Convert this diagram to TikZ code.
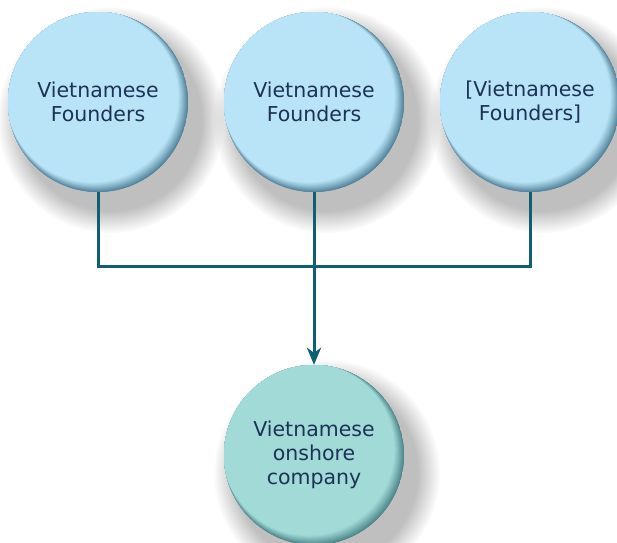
\documentclass[tikz,border=0pt]{standalone}
\usepackage{fontspec}
\setmainfont{DejaVu Sans}
\usetikzlibrary{arrows.meta,shadows}

\definecolor{founderfill}{HTML}{B9E4F7}
\definecolor{founderedge}{HTML}{4F7F97}
\definecolor{onshorefill}{HTML}{A1DAD7}
\definecolor{onshoreedge}{HTML}{4A8287}
\definecolor{linkteal}{HTML}{0F5F74}
\definecolor{labelnavy}{HTML}{1D3356}

% rim shading: stacked circles, each a bit lighter and shifted up-left
\newcommand{\rimshade}[2]{%
  \foreach \i in {0,...,20}{%
    \pgfmathsetmacro\t{\i/20}%
    \pgfmathsetmacro\mix{100*(1-\t)^1.1}%
    \fill[#1!\mix!#2] ([shift={(-5.7*\t,-5.7*\t)}]path picture bounding box.center)
      circle[radius=90.5-4.5*\t];
  }}

\begin{document}
\begin{tikzpicture}[x=1pt, y=-1pt,
  ball/.style={circle, minimum size=180pt, inner sep=0pt, align=center,
    text=labelnavy, font=\fontsize{20.5}{24}\selectfont,
    circular drop shadow={shadow xshift=10pt, shadow yshift=-14pt,
      shadow scale=1.26, opacity=0.5,
      path fading={circle with fuzzy edge 20 percent}}},
  founder/.style={ball, path picture={\rimshade{founderedge}{founderfill}}},
  onshorebox/.style={ball, path picture={\rimshade{onshoreedge}{onshorefill}}},
  linkline/.style={draw=linkteal, line width=3pt},
  linkarrow/.style={linkline, -{Stealth[length=17pt, width=14pt, inset=5pt]}}
]
\useasboundingbox (0,0) rectangle (617,542);
\node[founder] (founder-a) at (98,102) {Vietnamese\\Founders};
\node[founder] (founder-b) at (314,102) {Vietnamese\\Founders};
\node[founder] (founder-c) at (530,102) {[Vietnamese\\Founders]};
\node[onshorebox] (onshore) at (314,455) {Vietnamese\\onshore\\company};
\coordinate (merge) at (314,266);
\foreach \f in {founder-a,founder-b,founder-c}
  \draw[linkline] (\f.south) |- (merge);
\draw[linkarrow] (merge) -- (onshore.north);
\end{tikzpicture}
\end{document}
